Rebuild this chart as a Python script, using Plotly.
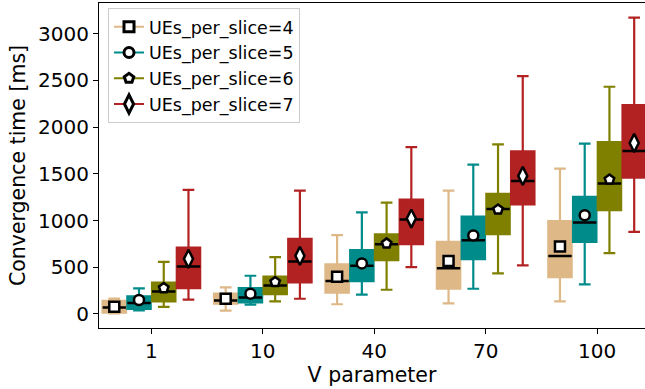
import plotly.graph_objects as go

V_values = ["1", "10", "40", "70", "100"]
series_names = ["UEs_per_slice=4", "UEs_per_slice=5", "UEs_per_slice=6", "UEs_per_slice=7"]
colors = ["#DEB887", "#008B8B", "#808000", "#B22222"]
symbols = ["square", "circle", "pentagon", "diamond-tall"]

# UEs_per_slice=4
lower_4 = [5, 35, 104, 114, 135]
q1_4 = [15, 110, 227, 270, 395]
med_4 = [70, 145, 352, 488, 619]
q3_4 = [140, 217, 530, 772, 993]
upper_4 = [165, 284, 843, 1320, 1555]
mean_4 = [78, 163, 398, 566, 722]

# UEs_per_slice=5
lower_5 = [38, 99, 206, 270, 317]
q1_5 = [55, 124, 352, 587, 772]
med_5 = [117, 177, 516, 790, 979]
q3_5 = [188, 277, 683, 1043, 1252]
upper_5 = [273, 409, 1086, 1598, 1822]
mean_5 = [150, 217, 541, 840, 1057]

# UEs_per_slice=6
lower_6 = [75, 135, 259, 434, 651]
q1_6 = [135, 213, 576, 854, 1110]
med_6 = [241, 305, 747, 1124, 1395]
q3_6 = [337, 401, 851, 1284, 1840]
upper_6 = [558, 608, 1192, 1815, 2431]
mean_6 = [277, 342, 755, 1117, 1438]

# UEs_per_slice=7
lower_7 = [153, 163, 502, 520, 879]
q1_7 = [277, 337, 747, 1171, 1459]
med_7 = [508, 562, 1011, 1423, 1743]
q3_7 = [711, 804, 1224, 1740, 2234]
upper_7 = [1327, 1320, 1786, 2544, 3171]
mean_7 = [590, 622, 1021, 1477, 1829]

stats = [
    (lower_4, q1_4, med_4, q3_4, upper_4, mean_4),
    (lower_5, q1_5, med_5, q3_5, upper_5, mean_5),
    (lower_6, q1_6, med_6, q3_6, upper_6, mean_6),
    (lower_7, q1_7, med_7, q3_7, upper_7, mean_7),
]

fig = go.Figure()
for i, (lo, q1, md, q3, up, mn) in enumerate(stats):
    og = "g%d" % i
    msize = 10 if i != 3 else 13
    fig.add_trace(go.Box(
        x=V_values, q1=q1, median=md, q3=q3, lowerfence=lo, upperfence=up,
        fillcolor=colors[i], line=dict(color=colors[i], width=2.2),
        whiskerwidth=0.5, offsetgroup=og, alignmentgroup="a",
        showlegend=False, boxpoints=False, hoverinfo="skip"))
    fig.add_trace(go.Box(
        x=V_values, q1=md, median=md, q3=md, lowerfence=md, upperfence=md,
        fillcolor="rgba(0,0,0,0)", line=dict(color="black", width=2.5),
        whiskerwidth=0, offsetgroup=og, alignmentgroup="a",
        showlegend=False, boxpoints=False, hoverinfo="skip"))
    fig.add_trace(go.Scatter(
        x=V_values, y=mn, mode="markers", offsetgroup=og, alignmentgroup="a",
        marker=dict(symbol=symbols[i], size=msize, color="white",
                    line=dict(color="black", width=2.5)),
        showlegend=False, hoverinfo="skip"))
    fig.add_trace(go.Scatter(
        x=[None], y=[None], mode="lines+markers", name=series_names[i],
        offsetgroup=og, alignmentgroup="a",
        line=dict(color=colors[i], width=2),
        marker=dict(symbol=symbols[i], size=msize, color="white",
                    line=dict(color="black", width=3))))

fig.update_layout(
    width=645, height=389,
    margin=dict(l=99, r=0, t=3, b=61),
    paper_bgcolor="white", plot_bgcolor="white",
    font=dict(family="DejaVu Sans", color="black"),
    boxmode="group", boxgap=0.112, boxgroupgap=0.055,
    scattermode="group", scattergap=0.112,
    legend=dict(x=0.0165, y=0.985, xanchor="left", yanchor="top",
                bgcolor="white", bordercolor="#cccccc", borderwidth=1,
                tracegroupgap=0,
                font=dict(size=17.5, family="DejaVu Sans")),
    xaxis=dict(type="category", range=[-0.47, 4.43], showline=True, linecolor="black",
               linewidth=1.2, mirror=True, ticks="outside", ticklen=5, tickcolor="black",
               tickfont=dict(size=20), showgrid=False,
               title=dict(text="V parameter", font=dict(size=20.5), standoff=4)),
    yaxis=dict(range=[-150, 3327], tickvals=[0, 500, 1000, 1500, 2000, 2500, 3000],
               showline=True, linecolor="black", linewidth=1.2, ticks="outside",
               ticklen=5, tickcolor="black", tickfont=dict(size=20), showgrid=False,
               zeroline=False,
               title=dict(text="Convergence time [ms]", font=dict(size=20.5), standoff=6)),
)

fig.write_html("out.html")
